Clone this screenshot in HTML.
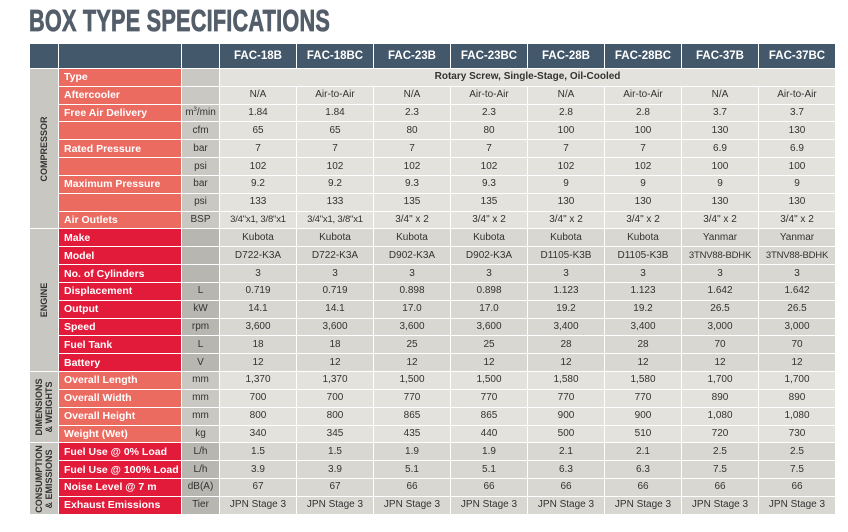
<!DOCTYPE html>
<html><head><meta charset="utf-8"><style>
body{margin:0;width:848px;height:532px;background:#fff;font-family:"Liberation Sans",sans-serif;overflow:hidden;position:relative}
h1{position:absolute;left:29px;top:3px;margin:0;font-family:"Liberation Sans Narrow","Liberation Sans",sans-serif;font-weight:bold;font-size:31px;color:#535e6a;letter-spacing:0.3px;transform:scaleX(0.70);transform-origin:left top;white-space:nowrap;-webkit-text-stroke:0.8px #535e6a}
table{position:absolute;left:29px;top:43px;border-collapse:collapse;table-layout:fixed;width:806px}
td{border:1px solid #fff;padding:0;font-size:10px;color:#333;text-align:center;height:16.84px;line-height:12px;white-space:nowrap;overflow:hidden;vertical-align:middle}
sup{line-height:0;font-size:6px;vertical-align:4px}
tr.h td{height:24px;line-height:14px;background:#44586c;color:#fff;font-weight:bold;font-family:"Liberation Sans Narrow","Liberation Sans",sans-serif;font-size:11.5px}
td.l{text-align:left;padding-left:5px;color:#fff;font-weight:bold;font-size:10.5px}
.s{background:#ec6b61}.r{background:#e31b3b}
.c td{background:#e3e2dc}.c td.u{background:#c9c8c2}
.e td{background:#d8d7d1}.e td.u{background:#b7b6b0}
.c td.s,.e td.s{background:#ec6b61}.c td.r,.e td.r{background:#e31b3b}
td.sec{background:#c8c7c1;position:relative}
td.sec span{position:absolute;left:50%;top:50%;transform:translate(-50%,-50%) rotate(-90deg);font-family:"Liberation Sans Narrow","Liberation Sans",sans-serif;font-weight:bold;font-size:9px;color:#333;line-height:10px;text-align:center;white-space:nowrap}
td.n{font-size:9.5px;letter-spacing:-0.2px}
</style></head><body>
<h1>BOX TYPE SPECIFICATIONS</h1>
<table>
<colgroup><col style="width:29px"><col style="width:123px"><col style="width:38px"><col span="8" style="width:77px"></colgroup>
<tr class="h"><td></td><td></td><td></td><td>FAC-18B</td><td>FAC-18BC</td><td>FAC-23B</td><td>FAC-23BC</td><td>FAC-28B</td><td>FAC-28BC</td><td>FAC-37B</td><td>FAC-37BC</td></tr>
<tr class="c"><td class="sec" rowspan="9"><span>COMPRESSOR</span></td><td class="l s">Type</td><td class="u"></td><td colspan="8" style="font-weight:bold">Rotary Screw, Single-Stage, Oil-Cooled</td></tr>
<tr class="c"><td class="l s">Aftercooler</td><td class="u"></td><td>N/A</td><td>Air-to-Air</td><td>N/A</td><td>Air-to-Air</td><td>N/A</td><td>Air-to-Air</td><td>N/A</td><td>Air-to-Air</td></tr>
<tr class="c"><td class="l s">Free Air Delivery</td><td class="u">m<sup>3</sup>/min</td><td>1.84</td><td>1.84</td><td>2.3</td><td>2.3</td><td>2.8</td><td>2.8</td><td>3.7</td><td>3.7</td></tr>
<tr class="c"><td class="l s"></td><td class="u">cfm</td><td>65</td><td>65</td><td>80</td><td>80</td><td>100</td><td>100</td><td>130</td><td>130</td></tr>
<tr class="c"><td class="l s">Rated Pressure</td><td class="u">bar</td><td>7</td><td>7</td><td>7</td><td>7</td><td>7</td><td>7</td><td>6.9</td><td>6.9</td></tr>
<tr class="c"><td class="l s"></td><td class="u">psi</td><td>102</td><td>102</td><td>102</td><td>102</td><td>102</td><td>102</td><td>100</td><td>100</td></tr>
<tr class="c"><td class="l s">Maximum Pressure</td><td class="u">bar</td><td>9.2</td><td>9.2</td><td>9.3</td><td>9.3</td><td>9</td><td>9</td><td>9</td><td>9</td></tr>
<tr class="c"><td class="l s"></td><td class="u">psi</td><td>133</td><td>133</td><td>135</td><td>135</td><td>130</td><td>130</td><td>130</td><td>130</td></tr>
<tr class="c"><td class="l s">Air Outlets</td><td class="u">BSP</td><td class="n">3/4"x1, 3/8"x1</td><td class="n">3/4"x1, 3/8"x1</td><td>3/4" x 2</td><td>3/4" x 2</td><td>3/4" x 2</td><td>3/4" x 2</td><td>3/4" x 2</td><td>3/4" x 2</td></tr>
<tr class="e"><td class="sec" rowspan="8"><span>ENGINE</span></td><td class="l r">Make</td><td class="u"></td><td>Kubota</td><td>Kubota</td><td>Kubota</td><td>Kubota</td><td>Kubota</td><td>Kubota</td><td>Yanmar</td><td>Yanmar</td></tr>
<tr class="e"><td class="l r">Model</td><td class="u"></td><td>D722-K3A</td><td>D722-K3A</td><td>D902-K3A</td><td>D902-K3A</td><td>D1105-K3B</td><td>D1105-K3B</td><td class="n">3TNV88-BDHK</td><td class="n">3TNV88-BDHK</td></tr>
<tr class="e"><td class="l r">No. of Cylinders</td><td class="u"></td><td>3</td><td>3</td><td>3</td><td>3</td><td>3</td><td>3</td><td>3</td><td>3</td></tr>
<tr class="e"><td class="l r">Displacement</td><td class="u">L</td><td>0.719</td><td>0.719</td><td>0.898</td><td>0.898</td><td>1.123</td><td>1.123</td><td>1.642</td><td>1.642</td></tr>
<tr class="e"><td class="l r">Output</td><td class="u">kW</td><td>14.1</td><td>14.1</td><td>17.0</td><td>17.0</td><td>19.2</td><td>19.2</td><td>26.5</td><td>26.5</td></tr>
<tr class="e"><td class="l r">Speed</td><td class="u">rpm</td><td>3,600</td><td>3,600</td><td>3,600</td><td>3,600</td><td>3,400</td><td>3,400</td><td>3,000</td><td>3,000</td></tr>
<tr class="e"><td class="l r">Fuel Tank</td><td class="u">L</td><td>18</td><td>18</td><td>25</td><td>25</td><td>28</td><td>28</td><td>70</td><td>70</td></tr>
<tr class="e"><td class="l r">Battery</td><td class="u">V</td><td>12</td><td>12</td><td>12</td><td>12</td><td>12</td><td>12</td><td>12</td><td>12</td></tr>
<tr class="c"><td class="sec" rowspan="4"><span>DIMENSIONS<br>&amp; WEIGHTS</span></td><td class="l s">Overall Length</td><td class="u">mm</td><td>1,370</td><td>1,370</td><td>1,500</td><td>1,500</td><td>1,580</td><td>1,580</td><td>1,700</td><td>1,700</td></tr>
<tr class="c"><td class="l s">Overall Width</td><td class="u">mm</td><td>700</td><td>700</td><td>770</td><td>770</td><td>770</td><td>770</td><td>890</td><td>890</td></tr>
<tr class="c"><td class="l s">Overall Height</td><td class="u">mm</td><td>800</td><td>800</td><td>865</td><td>865</td><td>900</td><td>900</td><td>1,080</td><td>1,080</td></tr>
<tr class="c"><td class="l s">Weight (Wet)</td><td class="u">kg</td><td>340</td><td>345</td><td>435</td><td>440</td><td>500</td><td>510</td><td>720</td><td>730</td></tr>
<tr class="e"><td class="sec" rowspan="4"><span>CONSUMPTION<br>&amp; EMISSIONS</span></td><td class="l r">Fuel Use @ 0% Load</td><td class="u">L/h</td><td>1.5</td><td>1.5</td><td>1.9</td><td>1.9</td><td>2.1</td><td>2.1</td><td>2.5</td><td>2.5</td></tr>
<tr class="e"><td class="l r">Fuel Use @ 100% Load</td><td class="u">L/h</td><td>3.9</td><td>3.9</td><td>5.1</td><td>5.1</td><td>6.3</td><td>6.3</td><td>7.5</td><td>7.5</td></tr>
<tr class="e"><td class="l r">Noise Level @ 7 m</td><td class="u">dB(A)</td><td>67</td><td>67</td><td>66</td><td>66</td><td>66</td><td>66</td><td>66</td><td>66</td></tr>
<tr class="e"><td class="l r">Exhaust Emissions</td><td class="u">Tier</td><td>JPN Stage 3</td><td>JPN Stage 3</td><td>JPN Stage 3</td><td>JPN Stage 3</td><td>JPN Stage 3</td><td>JPN Stage 3</td><td>JPN Stage 3</td><td>JPN Stage 3</td></tr>
</table>
</body></html>
